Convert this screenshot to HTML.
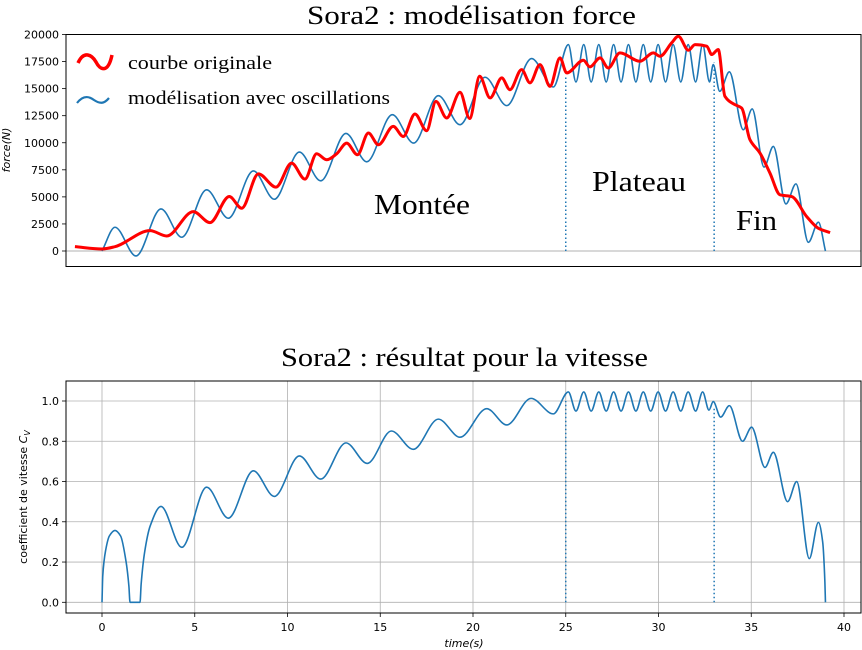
<!DOCTYPE html>
<html><head><meta charset="utf-8"><style>
html,body{margin:0;padding:0;background:#fff;width:862px;height:650px;overflow:hidden}
svg text{font-family:"DejaVu Sans","Liberation Sans",sans-serif}
svg text.serif{font-family:"Liberation Serif","DejaVu Serif",serif}
</style></head><body>
<svg id="chart" width="862" height="650" viewBox="0 0 862 650" xmlns="http://www.w3.org/2000/svg">
<text class="serif" x="307" y="24" font-size="26" textLength="329" lengthAdjust="spacingAndGlyphs">Sora2 : modélisation force</text>
<text class="serif" x="281" y="366" font-size="26" textLength="367" lengthAdjust="spacingAndGlyphs">Sora2 : résultat pour la vitesse</text>
<g id="topG"></g>
<g id="botG"></g>
<text class="serif" x="374" y="214" font-size="29" textLength="96" lengthAdjust="spacingAndGlyphs">Montée</text>
<text class="serif" x="592" y="191" font-size="29" textLength="94" lengthAdjust="spacingAndGlyphs">Plateau</text>
<text class="serif" x="736" y="230" font-size="29" textLength="41" lengthAdjust="spacingAndGlyphs">Fin</text>
<g>
<path d="M78,63 C84,50 92,55 96,62 C100,70 108,74 112,55" fill="none" stroke="#ff0000" stroke-width="3.5"/>
<text class="serif" x="128" y="69" font-size="19" textLength="144" lengthAdjust="spacingAndGlyphs">courbe originale</text>
<path d="M77,103 C84,94 90,97 94,100 C100,104 104,104 109,98" fill="none" stroke="#1f77b4" stroke-width="2.2"/>
<text class="serif" x="128" y="104" font-size="19" textLength="262" lengthAdjust="spacingAndGlyphs">modélisation avec oscillations</text>
</g>
<text x="10" y="150" font-size="11" font-style="italic" text-anchor="middle" transform="rotate(-90 10 150)">force(N)</text>
<text x="27" y="497" font-size="11" text-anchor="middle" transform="rotate(-90 27 497)">coefficient de vitesse <tspan font-style="italic">C</tspan><tspan font-style="italic" font-size="8" dy="3">V</tspan></text>
<text x="464" y="647" font-size="11" font-style="italic" text-anchor="middle">time(s)</text>
</svg>
<script>
const modelT=[0,0.7,1.83,3.18,4.3,5.64,6.81,8.16,9.29,10.64,11.79,13.15,14.27,15.65,16.8,18.13,19.3,20.65,21.82,23.16,24.33,25.14,25.55,25.97,26.37,26.78,27.18,27.58,27.98,28.38,28.78,29.18,29.58,29.98,30.38,30.79,31.2,31.6,32.0,32.38,32.75,32.95,33.3,33.82,34.57,35.05,35.69,36.19,36.87,37.41,38.08,38.62,39.0];
const modelF=[0,2195,-460,3890,1270,5650,3025,7400,4780,9140,6480,10860,8240,12590,9970,14350,11670,16050,13430,17780,15150,19070,15620,19070,15620,19070,15620,19070,15620,19070,15620,19070,15620,19070,15620,19070,15620,19070,15620,19070,15620,17220,14750,16550,11200,13120,7750,9660,4350,6200,800,2660,0];
const origT=[-1.46,0,0.7,2.59,3.49,4.92,5.82,6.86,7.53,8.43,9.38,10.22,10.94,11.57,12.11,12.65,13.19,13.77,14.36,14.9,15.7,16.24,16.87,17.5,18.0,18.58,19.3,19.82,20.36,20.92,21.55,21.99,22.62,23.07,23.61,24.15,24.69,25.05,25.95,26.3,26.85,27.29,27.92,29.0,29.72,30.08,30.71,31.07,31.61,31.97,32.6,32.87,33.22,33.58,34.12,34.48,34.93,35.47,36.01,36.55,37.18,37.99,38.62,39.25];
const origF=[400,190,400,1880,1390,3640,2620,5030,3950,7130,5900,8120,6640,8980,8430,8980,9970,8890,10900,9810,11510,10580,12660,11110,13820,12290,14660,12240,16140,14140,15990,14900,16760,15530,17220,15210,17840,16450,17620,17010,17840,16910,18300,17530,18300,17990,19230,19840,18550,19070,18920,18150,18610,14290,13520,13210,10280,9050,7190,5190,5030,3180,2100,1700];
const velT=[0,0.04,0.2,0.4,0.7,1.0,1.3,1.45,1.51,2.05,2.11,2.3,2.6,3.18,4.3,5.64,6.81,8.16,9.29,10.64,11.79,13.15,14.3,15.6,16.78,18.13,19.3,20.74,21.82,23.13,24.33,25.14,25.55,25.97,26.37,26.78,27.18,27.58,27.98,28.38,28.78,29.18,29.58,29.98,30.38,30.79,31.2,31.6,32.0,32.38,32.72,32.95,33.35,33.82,34.53,35.02,35.74,36.19,36.96,37.45,38.13,38.62,38.85,38.97,39.0];
const velV=[0,0.13,0.26,0.33,0.357,0.33,0.2,0.08,0,0,0.09,0.25,0.38,0.476,0.273,0.572,0.418,0.653,0.526,0.727,0.612,0.792,0.69,0.851,0.76,0.91,0.82,0.962,0.881,1.013,0.936,1.045,0.95,1.045,0.95,1.045,0.95,1.045,0.95,1.045,0.95,1.045,0.95,1.045,0.95,1.045,0.95,1.045,0.95,1.045,0.955,0.997,0.92,0.977,0.80,0.87,0.67,0.745,0.50,0.60,0.217,0.397,0.3,0.1,0];
const phaseT=[25,33];
const phaseTopF=[16100,17400];
const phaseVelV=[1.0,0.97];
const forceTicks=[0,2500,5000,7500,10000,12500,15000,17500,20000];
const velTicks=[0,0.2,0.4,0.6,0.8,1.0];
const velTickLabels=["0.0","0.2","0.4","0.6","0.8","1.0"];
const timeTicks=[0,5,10,15,20,25,30,35,40];

const NS="http://www.w3.org/2000/svg";
const L=66,R=861;
const xS=t=>102+t*18.55;
const yF=f=>251-f*0.010825;
const yV=v=>602.3-v*201.3;
function el(p,tag,attrs){const e=document.createElementNS(NS,tag);for(const k in attrs)e.setAttribute(k,attrs[k]);p.appendChild(e);return e;}
function mono(xs,ys){
  const n=xs.length,d=[],m=[];
  for(let i=0;i<n-1;i++)d.push((ys[i+1]-ys[i])/(xs[i+1]-xs[i]));
  for(let i=0;i<n;i++){
    if(i===0)m.push(d[0]);else if(i===n-1)m.push(d[n-2]);
    else if(d[i-1]*d[i]<=0)m.push(0);
    else{const h0=xs[i]-xs[i-1],h1=xs[i+1]-xs[i];m.push(3*(h0+h1)/((2*h1+h0)/d[i-1]+(h1+2*h0)/d[i]));}
  }
  let s="M"+xs[0].toFixed(2)+","+ys[0].toFixed(2);
  for(let i=0;i<n-1;i++){const h=(xs[i+1]-xs[i])/3;
    s+="C"+(xs[i]+h).toFixed(2)+","+(ys[i]+m[i]*h).toFixed(2)+" "+(xs[i+1]-h).toFixed(2)+","+(ys[i+1]-m[i+1]*h).toFixed(2)+" "+xs[i+1].toFixed(2)+","+ys[i+1].toFixed(2);}
  return s;
}
// TOP
const topG=document.getElementById('topG');
let ln=el(topG,'line',{x1:L,x2:R,y1:yF(0),y2:yF(0),stroke:'#b0b0b0','stroke-width':1});


forceTicks.forEach(f=>{
  const y=yF(f);
  const tk=el(topG,'line',{x1:L-4,x2:L,y1:y,y2:y,stroke:'#000','stroke-width':0.8});
  
  
  const tx=el(topG,'text',{x:L-7,y:y+4,'font-size':11,'text-anchor':'end'});tx.textContent=f;
  
  
});
phaseT.forEach((t,i)=>{
  const v=el(topG,'line',{x1:xS(t),x2:xS(t),y1:yF(0),y2:yF(phaseTopF[i]),stroke:'#1f77b4','stroke-width':1.5,'stroke-dasharray':'1.5,2.5'});
  
  
});
let p=el(topG,'path',{d:mono(modelT.map(xS),modelF.map(yF)),fill:'none',stroke:'#1f77b4','stroke-width':1.6});


p=el(topG,'path',{d:mono(origT.map(xS),origF.map(yF)),fill:'none',stroke:'#ff0000','stroke-width':3,'stroke-linejoin':'round'});


let fr=el(topG,'rect',{x:L,y:34.5,width:R-L,height:232,fill:'none',stroke:'#000','stroke-width':1});


// BOTTOM
const botG=document.getElementById('botG');
timeTicks.forEach(t=>{
  const x=xS(t);
  const g=el(botG,'line',{x1:x,x2:x,y1:381,y2:613,stroke:'#b0b0b0','stroke-width':0.8});
  
  
  const tk=el(botG,'line',{x1:x,x2:x,y1:613,y2:617,stroke:'#000','stroke-width':0.8});
  
  
  const tx=el(botG,'text',{x:x,y:631,'font-size':11,'text-anchor':'middle'});tx.textContent=t;
  
  
});
velTicks.forEach((v,i)=>{
  const y=yV(v);
  const g=el(botG,'line',{x1:L,x2:R,y1:y,y2:y,stroke:'#b0b0b0','stroke-width':0.8});
  
  
  const tk=el(botG,'line',{x1:L-4,x2:L,y1:y,y2:y,stroke:'#000','stroke-width':0.8});
  
  
  const tx=el(botG,'text',{x:L-7,y:y+4,'font-size':11,'text-anchor':'end'});tx.textContent=velTickLabels[i];
  
  
});
phaseT.forEach((t,i)=>{
  const v=el(botG,'line',{x1:xS(t),x2:xS(t),y1:yV(0),y2:yV(phaseVelV[i]),stroke:'#1f77b4','stroke-width':1.5,'stroke-dasharray':'1.5,2.5'});
  
  
});
p=el(botG,'path',{d:mono(velT.map(xS),velV.map(yV)),fill:'none',stroke:'#1f77b4','stroke-width':1.6});


fr=el(botG,'rect',{x:L,y:381,width:R-L,height:232,fill:'none',stroke:'#000','stroke-width':1});


</script>
</body></html>
